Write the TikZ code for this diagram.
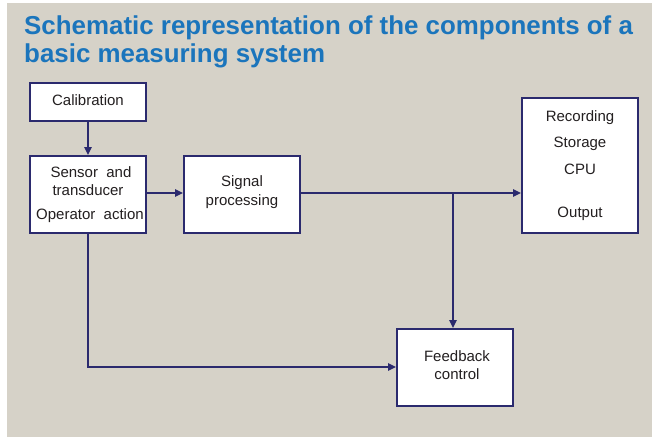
\documentclass[tikz,border=0pt]{standalone}
\usepackage{fontspec}
\setmainfont{Liberation Sans}
\usetikzlibrary{arrows.meta}
\definecolor{panel}{HTML}{D6D2C8}
\definecolor{headblue}{HTML}{1B75BC}
\definecolor{navy}{HTML}{2B2A6E}
\definecolor{ink}{HTML}{231F20}
\tikzset{
  block/.style={draw=navy, line width=1.6pt, fill=white, inner sep=0pt, anchor=north west},
  lbl/.style={font=\fontsize{15}{18.5}\selectfont, text=ink, align=center},
  head/.style={anchor=base west, inner sep=0pt, text=headblue,
               font=\fontsize{25.9}{30}\selectfont\bfseries},
  flow/.style={draw=navy, line width=1.4pt, -{Triangle[length=8pt,width=7.5pt]}},
  wire/.style={draw=navy, line width=1.4pt}
}
\begin{document}
\begin{tikzpicture}[x=1pt,y=-1pt]
\useasboundingbox (0,0) rectangle (652,439);
\fill[white] (0,0) rectangle (652,439);
\fill[panel] (7,3) rectangle (652,437);

% heading
\node[head] (titleA) at (24,34) {Schematic representation of the components of a};
\node[head] (titleB) at (24,62) {basic measuring system};

% blocks
\node[block, minimum width=116pt, minimum height=38pt] (cal) at (29,82) {};
\node[block, minimum width=116pt, minimum height=77pt] (sens) at (29,155) {};
\node[block, minimum width=116pt, minimum height=77pt] (sig) at (183,155) {};
\node[block, minimum width=116pt, minimum height=135pt] (rec) at (521,97) {};
\node[block, minimum width=116pt, minimum height=77pt] (fb) at (396,328) {};

% block texts
\node[lbl] (calT) at (88,100) {Calibration};
\node[lbl] (sensA) at (91,172) {Sensor\ \ and};
\node[lbl] (sensB) at (88,190) {transducer};
\node[lbl] (sensC) at (90,216) {Operator\ \ action};
\node[lbl] (sigT) at (242,192) {Signal\\processing};
\node[lbl] (recA) at (580,118) {Recording};
\node[lbl] (recB) at (580,144) {Storage};
\node[lbl] (recC) at (580,169) {CPU};
\node[lbl] (recD) at (580,214) {Output};
\node[lbl] (fbT) at (457,365) {Feedback\\control};

% connectors
\coordinate (split) at (453,193);
\coordinate (corner) at (88,367);
\draw[flow] (cal.south -| 88,0) -- (sens.north -| 88,0);
\draw[flow] (sens.east |- 0,193) -- (sig.west |- 0,193);
\draw[wire] (sig.east |- 0,193) -- (split);
\draw[flow] (split) -- (rec.west |- split);
\draw[flow] (split) -- (fb.north -| split);
\draw[flow] (sens.south -| 88,0) -- (corner) -- (fb.west |- corner);
\end{tikzpicture}
\end{document}
